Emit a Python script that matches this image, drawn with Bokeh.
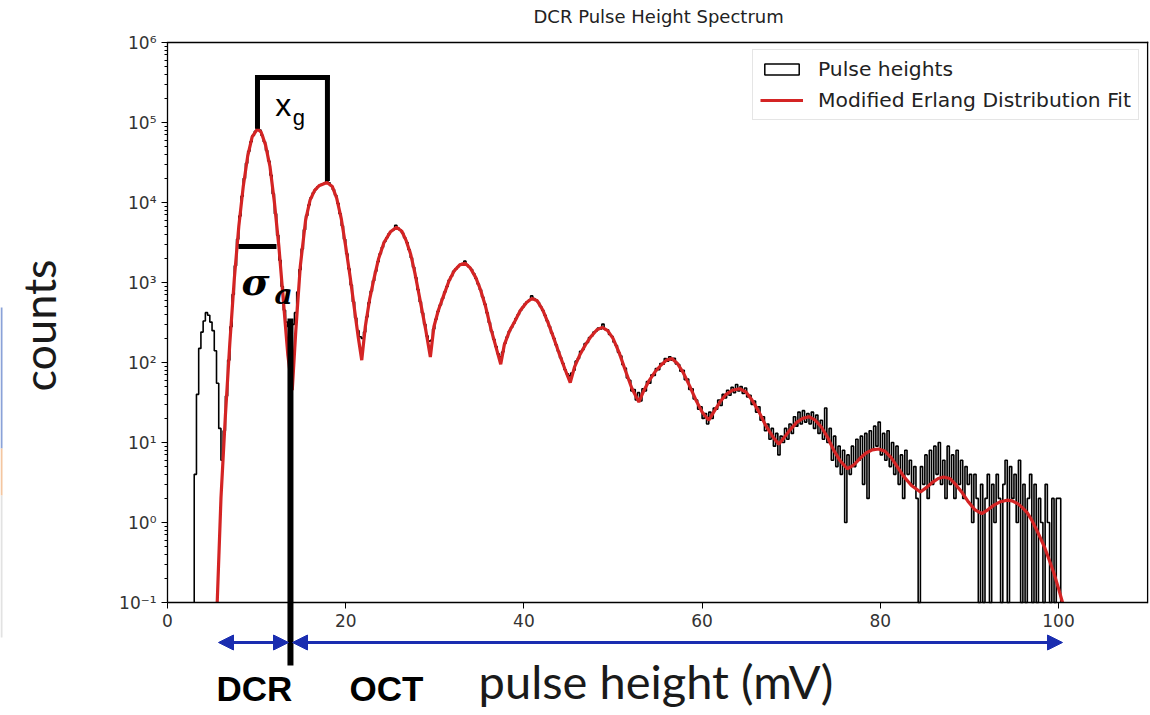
import numpy as np
from bokeh.plotting import figure
from bokeh.models import (FixedTicker, Range1d, Legend, LegendItem, Arrow,
                          NormalHead, Label, CustomJSTickFormatter, ColumnDataSource)
from bokeh.embed import file_html
from bokeh.resources import INLINE

# ---------------- data ----------------
hist_first_edge = 3.0      # mV, left edge of first histogram bin
hist_bin_width = 0.25      # mV
hist_counts = [
    4, 40, 150, 240, 330, 420, 390, 320, 250, 140, 55, 15, 6, 14, 38, 107, 280, 710, 1620, 3470,
    6760, 12000, 20000, 31000, 43600, 57500, 69000, 77600, 86000, 80500, 69000, 57500, 44700, 33000, 21900, 12900, 7240, 3890, 1900, 890,
    450, 320, 280, 260, 300, 420, 760, 1450, 2630, 4570, 6900, 9300, 11500, 13200, 14600, 15700, 16400, 17000, 17400, 18600,
    17600, 16200, 14500, 12300, 9800, 7240, 5130, 3470, 2290, 1480, 930, 575, 360, 250, 210, 200, 240, 370, 560, 780,
    1050, 1380, 1820, 2290, 2750, 3240, 3630, 4070, 4370, 4570, 5200, 4790, 4520, 4170, 3630, 3160, 2570, 2040, 1550, 1150,
    810, 575, 417, 300, 215, 185, 190, 263, 347, 437, 525, 630, 760, 890, 1070, 1200, 1380, 1480, 1580, 1680,
    1720, 1850, 1660, 1550, 1450, 1290, 1120, 955, 810, 660, 537, 417, 316, 245, 195, 158, 128, 118, 135, 174,
    209, 245, 275, 309, 355, 398, 447, 490, 537, 575, 603, 680, 630, 603, 562, 501, 447, 389, 331, 282,
    234, 200, 166, 138, 115, 98, 81, 72, 68, 74, 80, 104, 112, 138, 145, 172, 178, 205, 214, 240,
    248, 270, 262, 302, 258, 256, 224, 213, 180, 163, 134, 121, 94, 85, 64, 60, 44, 46, 34, 42,
    33, 47, 44, 58, 55, 70, 69, 84, 81, 97, 95, 112, 104, 118, 107, 113, 96, 94, 78, 80,
    61, 62, 46, 47, 35, 34, 26, 28, 20, 23, 17, 24, 20, 27, 26, 34, 29, 40, 36, 45,
    39, 49, 42, 53, 44, 50, 41, 48, 37, 39, 30, 33, 24, 28, 19, 21, 14, 17, 11, 15,
    9, 13, 7, 12, 10, 15, 11, 17, 13, 21, 16, 24, 17, 25, 18, 23, 17, 24, 15, 22,
    13, 19, 11, 27, 10, 15, 6, 12, 5, 9, 4, 8, 1, 7, 4, 9, 5, 11, 6, 12,
    3, 13, 2, 14, 8, 16, 9, 18, 7, 13, 6, 14, 5, 10, 4, 9, 3, 7, 2, 8,
    4, 6, 3, 5, 2, 0, 5, 3, 7, 2, 8, 3, 9, 4, 10, 3, 6, 2, 9, 3,
    7, 2, 8, 3, 6, 2, 5, 3, 4, 1, 4, 2, 0, 3, 0, 2, 4, 0, 3, 1,
    4, 2, 0, 3, 6, 0, 5, 2, 4, 1, 6, 0, 3, 0, 2, 4, 0, 3, 0, 2,
    1, 0, 3, 1, 0, 2, 0, 2, 2,
]

fit_x = [
    5.58, 6.0, 6.5, 7.0, 7.5, 8.0, 8.5, 9.0, 9.5, 10.1, 10.5, 11.0, 11.5, 12.0, 12.5, 13.0, 13.5, 14.0,
    14.4, 14.9, 15.5, 16.0, 16.5, 17.0, 17.9, 18.5, 19.0, 19.5, 20.0, 20.5, 21.0, 21.4, 21.8,
    22.2, 22.7, 23.2, 23.7, 24.3, 25.0, 25.7, 26.3, 26.8, 27.3, 27.8, 28.4, 29.0, 29.5,
    29.9, 30.4, 31.0, 31.6, 32.2, 32.8, 33.4, 34.0, 34.6, 35.1, 35.7, 36.3, 36.9, 37.4,
    37.8, 38.4, 39.0, 39.6, 40.3, 40.9, 41.5, 42.1, 42.7, 43.3, 43.9, 44.6, 45.2,
    45.7, 46.3, 46.9, 47.5, 48.2, 48.8, 49.4, 50.0, 50.7, 51.4, 52.1, 52.9,
    53.4, 54.0, 54.7, 55.4, 56.0, 56.6, 57.2, 57.9, 58.6, 59.3, 60.0, 60.75,
    61.3, 62.0, 62.7, 63.4, 64.2, 64.9, 65.6, 66.4, 67.1, 67.9, 68.6,
    69.2, 69.9, 70.6, 71.3, 72.0, 72.7, 73.4, 74.1, 74.8, 75.5, 76.3,
    77.0, 77.7, 78.4, 79.1, 79.8, 80.5, 81.2, 81.9, 82.6, 83.5, 84.5,
    85.2, 85.9, 86.5, 87.1, 87.8, 88.5, 89.2, 89.9, 90.6, 91.4,
    92.1, 92.8, 93.5, 94.2, 94.8, 95.5, 96.0, 96.5, 97.0, 97.5, 98.0, 98.5, 99.0, 99.5, 100.0, 100.45,
]
fit_y = [
    0.1, 2.0, 22, 178, 1120, 5000, 15800, 38000, 66000, 83000, 76000, 52500, 28200, 10000, 2820, 600, 126, 45,
    250, 1580, 6030, 10700, 14100, 16200, 17800, 15800, 11200, 6300, 2820, 1170, 450, 210, 107,
    280, 630, 1150, 2000, 3160, 4270, 4900, 4370, 3310, 2240, 1260, 560, 250, 117,
    280, 450, 690, 1050, 1410, 1660, 1740, 1510, 1150, 830, 500, 263, 151, 95,
    166, 250, 330, 447, 562, 630, 590, 457, 316, 209, 135, 83, 56,
    89, 126, 166, 209, 257, 275, 251, 200, 132, 79, 48, 32,
    43, 58, 76, 93, 107, 112, 98, 74, 51, 34, 24, 19,
    24, 32, 40, 45, 47, 43, 34, 24, 16.6, 12, 9.5,
    11.5, 14.5, 17.8, 20, 21, 19, 15.5, 11.5, 7.9, 5.9, 4.7,
    5.2, 6.3, 7.4, 8.1, 8.3, 7.8, 6.5, 5.0, 3.8, 2.9, 2.4,
    2.75, 3.2, 3.55, 3.7, 3.55, 2.95, 2.35, 1.8, 1.45, 1.29,
    1.45, 1.66, 1.82, 1.9, 1.86, 1.7, 1.51, 1.32, 1.07, 0.83, 0.63, 0.47, 0.33, 0.23, 0.15, 0.1,
]

x_ticks = [0, 20, 40, 60, 80, 100]
y_ticks = [1e-1, 1e0, 1e1, 1e2, 1e3, 1e4, 1e5, 1e6]
y_tick_labels = ["10\u207b\u00b9", "10\u2070", "10\u00b9", "10\u00b2", "10\u00b3", "10\u2074", "10\u2075", "10\u2076"]

title_text = "DCR Pulse Height Spectrum"
x_label = "pulse height (mV)"
y_label = "counts"
legend_labels = ["Pulse heights", "Modified Erlang Distribution Fit"]

# ---------------- geometry ----------------
X0, X1 = 0.0, 110.0          # plotted x interval (axis bounds)
Y0, Y1 = 0.1, 1e6            # plotted y interval (axis bounds)
PX_PER_MV = 8.91
PX_PER_DEC = 80.0
AX_LEFT_PX, AX_TOP_PX = 167, 42
W, H, TOP_BORDER = 1150, 715, 30


def dx(px):      # canvas x pixel -> data x
    return X0 + (px - AX_LEFT_PX) / PX_PER_MV


def dy(py):      # canvas y pixel -> data y (log axis)
    return 10 ** (np.log10(Y1) - (py - AX_TOP_PX) / PX_PER_DEC)


p = figure(width=W, height=H,
           x_range=Range1d(dx(0), dx(W)), y_range=Range1d(dy(H), dy(TOP_BORDER)),
           y_axis_type="log", output_backend="svg", toolbar_location=None,
           min_border_left=0, min_border_right=0, min_border_top=TOP_BORDER,
           min_border_bottom=0)
p.background_fill_color = "white"
p.border_fill_color = "white"
p.outline_line_color = None
p.xgrid.visible = False
p.ygrid.visible = False

p.title.text = title_text
p.title.align = "left"
p.title.offset = 533
p.title.standoff = 7
p.title.text_font = "DejaVu Sans"
p.title.text_font_size = "18px"
p.title.text_font_style = "normal"
p.title.text_color = "#222222"

# histogram step outline (zero-count bins drop to the axis floor)
n = len(hist_counts)
edges = hist_first_edge + hist_bin_width * np.arange(n + 1)
cnt = np.array(hist_counts, dtype=float)
vals = np.where(cnt > 0, cnt, Y0)
sx = [edges[0]]
sy = [Y0]
for i in range(n):
    sx += [edges[i], edges[i + 1]]
    sy += [vals[i], vals[i]]
sx.append(edges[-1])
sy.append(Y0)
p.line(sx, sy, line_color="black", line_width=1.6)

# fit line
fit_r = p.line(fit_x, fit_y, line_color="#d42424", line_width=3.2)

# legend proxy for the histogram patch (kept off-screen)
box_src = ColumnDataSource(dict(left=[dx(-300)], right=[dx(-290)], top=[10.0], bottom=[1.0]))
box_r = p.quad(left="left", right="right", top="top", bottom="bottom", source=box_src,
               fill_color="white", line_color="black", line_width=1.5)

legend = Legend(items=[LegendItem(label=legend_labels[0], renderers=[box_r]),
                       LegendItem(label=legend_labels[1], renderers=[fit_r])],
                location=(752, H - 120))
legend.label_text_font = "DejaVu Sans"
legend.label_text_font_size = "20.3px"
legend.label_text_color = "#222222"
legend.glyph_width = 43
legend.glyph_height = 14
legend.label_height = 24
legend.label_standoff = 15
legend.spacing = 7
legend.padding = 7
legend.margin = 0
legend.border_line_color = "#cccccc"
legend.border_line_width = 1
legend.background_fill_alpha = 0.85
p.add_layout(legend)

# axes fixed at the plot's edges
p.xaxis.fixed_location = Y0
p.xaxis.bounds = (X0, X1)
p.xaxis.ticker = FixedTicker(ticks=x_ticks, minor_ticks=[])
p.xaxis.major_tick_out = 6
p.xaxis.major_tick_in = 0
p.xaxis.minor_tick_out = 0
p.xaxis.major_label_text_font = "DejaVu Sans"
p.xaxis.major_label_text_font_size = "17px"
p.xaxis.major_label_text_color = "#333333"
p.xaxis.major_label_standoff = 5
p.xaxis.axis_line_width = 1.3

y_minor = [m * d for d in y_ticks[:-1] for m in range(2, 10)]
p.yaxis.fixed_location = X0
p.yaxis.bounds = (Y0, Y1)
p.yaxis.ticker = FixedTicker(ticks=y_ticks, minor_ticks=y_minor)
p.yaxis.formatter = CustomJSTickFormatter(args=dict(vals=y_ticks, labs=y_tick_labels), code="""
    let best = 0, d = Infinity;
    for (let i = 0; i < vals.length; i++) {
        const dd = Math.abs(Math.log10(vals[i]) - Math.log10(tick));
        if (dd < d) { d = dd; best = i; }
    }
    return labs[best];
""")
p.yaxis.major_tick_out = 6
p.yaxis.major_tick_in = 0
p.yaxis.minor_tick_out = 3
p.yaxis.minor_tick_in = 0
p.yaxis.major_label_text_font = "DejaVu Sans"
p.yaxis.major_label_text_font_size = "17px"
p.yaxis.major_label_text_color = "#333333"
p.yaxis.major_label_standoff = 5
p.yaxis.axis_line_width = 1.3


def seg(x0, y0, x1, y1, color="black", width=5.0, cap="square"):
    p.add_layout(Arrow(end=None, x_start=x0, y_start=y0, x_end=x1, y_end=y1,
                       line_color=color, line_width=width, line_cap=cap))


# top and right spines of the axes box
seg(X0, Y1, X1, Y1, width=1.3)
seg(X1, Y0, X1, Y1, width=1.3)

# axis titles
p.add_layout(Label(x=dx(38), y=dy(325), text=y_label, angle=np.pi / 2,
                   text_align="center", text_baseline="alphabetic",
                   text_font="Lato", text_font_size="45px", text_color="#1a1a1a"))
p.add_layout(Label(x=dx(655.5), y=dy(680), text=x_label,
                   text_align="center", text_baseline="alphabetic",
                   text_font="Lato", text_font_size="47px", text_color="#1a1a1a"))

# ---------------- annotations ----------------
# x_g bracket between the first two peaks
seg(10.1, 9.0e4, 10.1, 3.65e5)
seg(10.1, 3.65e5, 17.95, 3.65e5)
seg(17.95, 3.65e5, 17.95, 2.0e4)
p.add_layout(Label(x=12.1, y=dy(122), text="x", text_font="Liberation Sans",
                   text_font_size="32px", text_color="black"))
p.add_layout(Label(x=14.05, y=dy(129), text="g", text_font="Liberation Sans",
                   text_font_size="22px", text_color="black"))

# sigma_a bar
seg(7.97, dy(246), 12.23, dy(246), cap="butt")
p.add_layout(Label(x=8.3, y=dy(303), text="\u03c3", text_font="DejaVu Serif",
                   text_font_style="bold italic", text_font_size="38px", text_color="black"))
p.add_layout(Label(x=12.0, y=dy(310), text="a", text_font="DejaVu Serif",
                   text_font_style="bold italic", text_font_size="28px", text_color="black"))

# DCR / OCT divider and arrows
seg(13.8, dy(318), 13.8, dy(665), width=6, cap="butt")
blue = "#1a2db0"
y_arr = dy(642)
p.add_layout(Arrow(start=NormalHead(size=15, fill_color=blue, line_color=blue),
                   end=NormalHead(size=15, fill_color=blue, line_color=blue),
                   x_start=dx(218), y_start=y_arr, x_end=dx(288), y_end=y_arr,
                   line_color=blue, line_width=3))
p.add_layout(Arrow(start=NormalHead(size=15, fill_color=blue, line_color=blue),
                   end=NormalHead(size=15, fill_color=blue, line_color=blue),
                   x_start=dx(292), y_start=y_arr, x_end=dx(1062), y_end=y_arr,
                   line_color=blue, line_width=3))
p.add_layout(Label(x=dx(216), y=dy(707), text="DCR", text_font="Liberation Sans",
                   text_font_style="bold", text_font_size="35px", text_color="black"))
p.add_layout(Label(x=dx(349), y=dy(707), text="OCT", text_font="Liberation Sans",
                   text_font_style="bold", text_font_size="35px", text_color="black"))

# thin coloured edge at the far left of the picture
seg(dx(1), dy(307), dx(1), dy(448), color="#8aa2d8", width=2, cap="butt")
seg(dx(1), dy(448), dx(1), dy(495), color="#f4c6a0", width=2, cap="butt")
seg(dx(1), dy(495), dx(1), dy(637), color="#e2e2e2", width=2, cap="butt")

open("out.html", "w").write(file_html(p, INLINE))
